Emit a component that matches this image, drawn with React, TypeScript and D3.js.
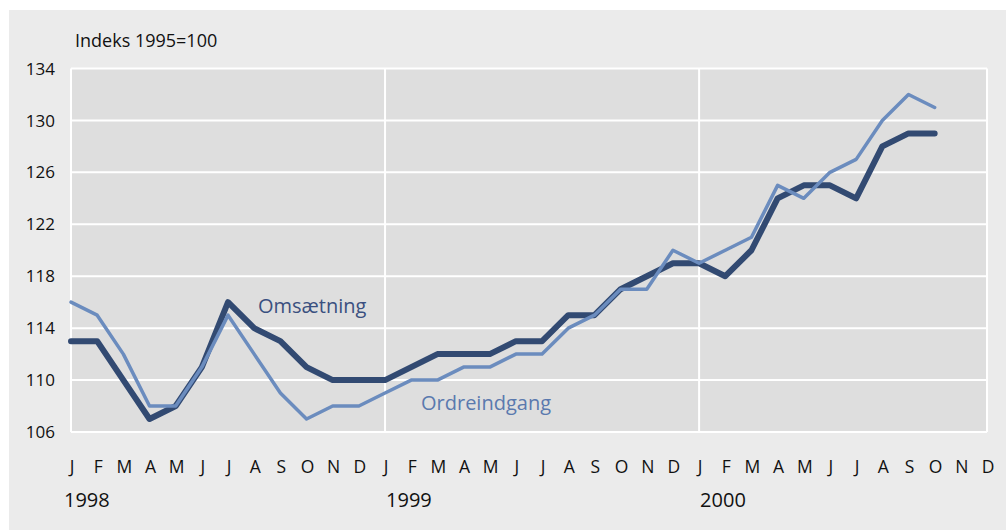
import React, { useEffect, useRef } from 'react';
import * as d3 from 'd3';

// month labels, three years
const monthLetters = ['J', 'F', 'M', 'A', 'M', 'J', 'J', 'A', 'S', 'O', 'N', 'D'];
const years = ['1998', '1999', '2000'];
const yTicks = [106, 110, 114, 118, 122, 126, 130, 134];

// Jan 1998 .. Oct 2000
const omsaetning = [
  113, 113, 110, 107, 108, 111, 116, 114, 113, 111, 110, 110,
  110, 111, 112, 112, 112, 113, 113, 115, 115, 117, 118, 119,
  119, 118, 120, 124, 125, 125, 124, 128, 129, 129,
];
const ordreindgang = [
  116, 115, 112, 108, 108, 111, 115, 112, 109, 107, 108, 108,
  109, 110, 110, 111, 111, 112, 112, 114, 115, 117, 117, 120,
  119, 120, 121, 125, 124, 126, 127, 130, 132, 131,
];

const FONT = '"Open Sans", sans-serif';

const App = () => {
  const ref = useRef<SVGSVGElement>(null);

  useEffect(() => {
    document.body.style.margin = '0';
    if (!ref.current) return;
    const svg = d3.select(ref.current);
    svg.selectAll('*').remove();

    const left = 71, right = 987, top = 68.5, bottom = 432;
    const nMonths = monthLetters.length * years.length;

    const x = d3.scaleLinear().domain([0, nMonths - 1]).range([left, right]);
    const y = d3.scaleLinear().domain([106, 134]).range([bottom, top]);

    // background panel
    svg.append('rect').attr('x', 0).attr('y', 0).attr('width', 1006).attr('height', 530).attr('fill', '#ffffff');
    svg.append('rect').attr('x', 9).attr('y', 10).attr('width', 997).attr('height', 520).attr('fill', '#ebebeb');
    svg.append('rect')
      .attr('x', left).attr('y', top)
      .attr('width', right - left).attr('height', bottom - top)
      .attr('fill', '#dedede');

    // horizontal grid
    svg.append('g')
      .selectAll('line')
      .data(yTicks)
      .join('line')
      .attr('x1', left).attr('x2', right)
      .attr('y1', (d) => y(d)).attr('y2', (d) => y(d))
      .attr('stroke', '#ffffff').attr('stroke-width', 2);

    // vertical grid: edges and year starts
    const vLines = [0, 12, 24, nMonths - 1];
    svg.append('g')
      .selectAll('line')
      .data(vLines)
      .join('line')
      .attr('x1', (d) => x(d)).attr('x2', (d) => x(d))
      .attr('y1', top).attr('y2', bottom)
      .attr('stroke', '#ffffff').attr('stroke-width', 2);

    // y tick labels
    svg.append('g')
      .selectAll('text')
      .data(yTicks)
      .join('text')
      .attr('x', 55)
      .attr('y', (d) => y(d))
      .attr('dy', '0.36em')
      .attr('text-anchor', 'end')
      .attr('font-family', FONT)
      .attr('font-size', 17)
      .attr('fill', '#111')
      .text((d) => d);

    svg.append('text')
      .attr('x', 75).attr('y', 47)
      .attr('font-family', FONT).attr('font-size', 18)
      .attr('fill', '#111')
      .text('Indeks 1995=100');

    // month labels
    const months = d3.range(nMonths);
    svg.append('g')
      .selectAll('text')
      .data(months)
      .join('text')
      .attr('x', (d) => x(d) + 1)
      .attr('y', 473)
      .attr('text-anchor', 'middle')
      .attr('font-family', FONT)
      .attr('font-size', 17.5)
      .attr('fill', '#111')
      .text((d) => monthLetters[d % 12]);

    // year labels
    svg.append('g')
      .selectAll('text')
      .data(years)
      .join('text')
      .attr('x', (d, i) => x(i * 12) + (i === 0 ? -7 : 1))
      .attr('y', 507)
      .attr('font-family', FONT)
      .attr('font-size', 20)
      .attr('fill', '#111')
      .text((d) => d);

    const line = d3.line<number>()
      .x((d, i) => x(i))
      .y((d) => y(d));

    svg.append('path')
      .datum(omsaetning)
      .attr('d', line)
      .attr('fill', 'none')
      .attr('stroke', '#324a72')
      .attr('stroke-width', 6)
      .attr('stroke-linejoin', 'round')
      .attr('stroke-linecap', 'round');

    svg.append('path')
      .datum(ordreindgang)
      .attr('d', line)
      .attr('fill', 'none')
      .attr('stroke', '#6b8cbe')
      .attr('stroke-width', 3.5)
      .attr('stroke-linejoin', 'round')
      .attr('stroke-linecap', 'round');

    // series labels
    svg.append('text')
      .attr('x', 258).attr('y', 313)
      .attr('font-family', FONT).attr('font-size', 20)
      .attr('fill', '#3a5080')
      .text('Omsætning');

    svg.append('text')
      .attr('x', 421).attr('y', 410)
      .attr('font-family', FONT).attr('font-size', 20)
      .attr('fill', '#5a79ae')
      .text('Ordreindgang');
  }, []);

  return <svg width={1006} height={530} ref={ref} style={{ display: 'block' }} />;
};

export default App;
